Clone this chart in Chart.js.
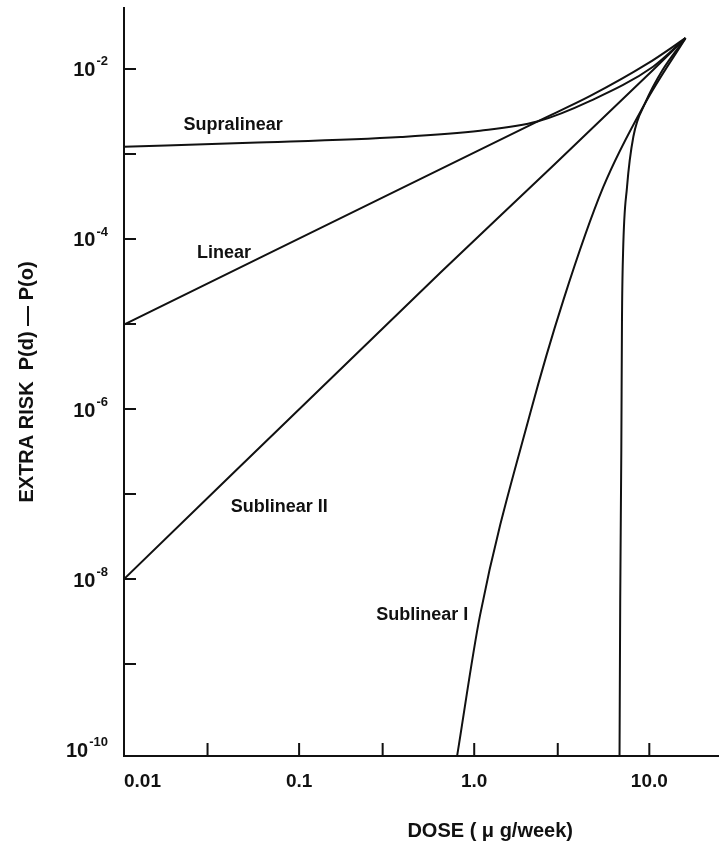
<!DOCTYPE html>
<html>
<head>
<meta charset="utf-8">
<script src="https://cdn.jsdelivr.net/npm/chart.js@4.4.0/dist/chart.umd.min.js"></script>
<style>
  body { margin: 0; background: #fff; }
  canvas { display: block; }
</style>
</head>
<body>
<canvas id="riskChart" width="719" height="848"></canvas>
<script>
const ctxRisk = document.getElementById('riskChart');

// dose (ug/week) and extra risk, one pair of arrays per curve
let supraDose = [0.01, 0.0525, 0.38, 1.08, 2.29, 4.6, 10.5, 16.1];
let supraRisk = [1.21e-3, 1.35e-3, 1.58e-3, 1.87e-3, 2.4e-3, 4.2e-3, 1.06e-2, 2.3e-2];
let linearDose = [0.01, 2.29, 4.6, 9.75, 16.1];
let linearRisk = [9.8e-6, 2.4e-3, 4.8e-3, 1.15e-2, 2.3e-2];
let sub2Dose = [0.01, 0.64, 2.38, 10.5, 16.1];
let sub2Risk = [1.0e-8, 4.0e-5, 5.2e-4, 9.7e-3, 2.3e-2];
let sub1Dose = [0.80, 1.08, 2.09, 3.23, 5.46, 9.48, 16.1];
let sub1Risk = [8.5e-11, 3.77e-9, 8.97e-7, 1.91e-5, 4.09e-4, 3.98e-3, 2.3e-2];
let threshDose = [6.76, 6.82, 6.92, 6.98, 7.08, 7.46, 8.11, 9.49, 11.9, 16.1];
let threshRisk = [8.5e-11, 5.6e-9, 3.3e-7, 1.1e-5, 6.8e-5, 4.1e-4, 1.6e-3, 4.0e-3, 9.7e-3, 2.3e-2];

let curveNames = ['Supralinear', 'Linear', 'Sublinear II', 'Sublinear I'];
let labelDose = [0.042, 0.0373, 0.077, 0.505];
let labelRisk = [2.19e-3, 6.8e-5, 7.0e-8, 3.8e-9];

let xTickValues = [0.01, 0.1, 1, 10, 25];
let xTickLabels = ['0.01', '0.1', '1.0', '10.0', ''];
let xTickMarks = [0.03, 0.1, 0.3, 1, 3, 10];
let yTickValues = [1e-10, 1e-9, 1e-8, 1e-7, 1e-6, 1e-5, 1e-4, 1e-3, 1e-2];
let yLabelValues = [1e-10, 1e-8, 1e-6, 1e-4, 1e-2];
let yLabelExps = ['-10', '-8', '-6', '-4', '-2'];
let yTickMarks = [1e-9, 1e-8, 1e-7, 1e-6, 1e-5, 1e-4, 1e-3, 1e-2];

const fontFam = "'Liberation Sans', Arial, sans-serif";
const ink = '#111';

function pairs(xs, ys) {
  return xs.map((v, i) => ({x: v, y: ys[i]}));
}

function curve(xs, ys) {
  return {
    data: pairs(xs, ys),
    borderColor: ink,
    borderWidth: 2,
    pointRadius: 0,
    cubicInterpolationMode: 'monotone',
    fill: false
  };
}

function noPad(scale) {
  scale.paddingTop = 0;
  scale.paddingBottom = 0;
  scale.paddingLeft = 0;
  scale.paddingRight = 0;
}

const annotate = {
  id: 'annotate',
  afterDraw(chart) {
    const {ctx, chartArea, scales} = chart;
    const x = scales.x, y = scales.y;
    ctx.save();
    ctx.strokeStyle = ink;
    ctx.lineWidth = 2;
    ctx.beginPath();
    xTickMarks.forEach(v => {
      let px = x.getPixelForValue(v);
      ctx.moveTo(px, chartArea.bottom);
      ctx.lineTo(px, chartArea.bottom - 13);
    });
    yTickMarks.forEach(v => {
      let py = y.getPixelForValue(v);
      ctx.moveTo(chartArea.left, py);
      ctx.lineTo(chartArea.left + 12, py);
    });
    ctx.stroke();

    ctx.fillStyle = ink;
    // y tick labels: 10 with raised exponent
    ctx.textAlign = 'right';
    ctx.textBaseline = 'middle';
    yLabelValues.forEach((v, i) => {
      let py = y.getPixelForValue(v);
      let right = chartArea.left - 16;
      ctx.font = 'bold 13px ' + fontFam;
      let w = ctx.measureText(yLabelExps[i]).width;
      ctx.fillText(yLabelExps[i], right, py - 7);
      ctx.font = 'bold 20px ' + fontFam;
      ctx.fillText('10', right - w - 1, py + 2);
    });

    ctx.font = 'bold 18px ' + fontFam;
    ctx.textAlign = 'center';
    curveNames.forEach((t, i) => {
      ctx.fillText(t, x.getPixelForValue(labelDose[i]), y.getPixelForValue(labelRisk[i]));
    });
    ctx.font = 'bold 20px ' + fontFam;
    ctx.fillText('DOSE ( μ g/week)', x.getPixelForValue(1) + 16, 831);
    ctx.restore();
  }
};

const riskChart = new Chart(ctxRisk, {
  type: 'line',
  data: {
    datasets: [
      curve(supraDose, supraRisk),
      curve(linearDose, linearRisk),
      curve(sub2Dose, sub2Risk),
      curve(sub1Dose, sub1Risk),
      curve(threshDose, threshRisk)
    ]
  },
  options: {
    responsive: false,
    animation: false,
    devicePixelRatio: 1,
    layout: {
      padding: {top: 8, right: 0, bottom: 0, left: 0}
    },
    plugins: {
      legend: {display: false},
      tooltip: {enabled: false}
    },
    scales: {
      x: {
        type: 'logarithmic',
        min: 0.01,
        max: 25,
        grid: {display: false},
        border: {display: true, color: ink, width: 2},
        afterBuildTicks: (scale) => {
          scale.ticks = xTickValues.map(v => ({value: v}));
        },
        afterFit: (scale) => {
          scale.height = 92;
          noPad(scale);
        },
        ticks: {
          autoSkip: false,
          maxRotation: 0,
          align: 'inner',
          padding: 6,
          color: ink,
          font: {family: fontFam, size: 19, weight: 'bold'},
          callback: (val, i) => xTickLabels[i]
        }
      },
      y: {
        type: 'logarithmic',
        min: 8.3e-11,
        max: 0.052,
        grid: {display: false},
        border: {display: true, color: ink, width: 2},
        afterBuildTicks: (scale) => {
          scale.ticks = yTickValues.map(v => ({value: v}));
        },
        afterFit: (scale) => {
          scale.width = 124;
          noPad(scale);
        },
        ticks: {
          display: false
        },
        title: {
          display: true,
          text: 'EXTRA RISK  P(d) — P(o)',
          color: ink,
          font: {family: fontFam, size: 20, weight: 'bold'},
          padding: {top: 15, bottom: 0}
        }
      }
    }
  },
  plugins: [annotate]
});
</script>
</body>
</html>
